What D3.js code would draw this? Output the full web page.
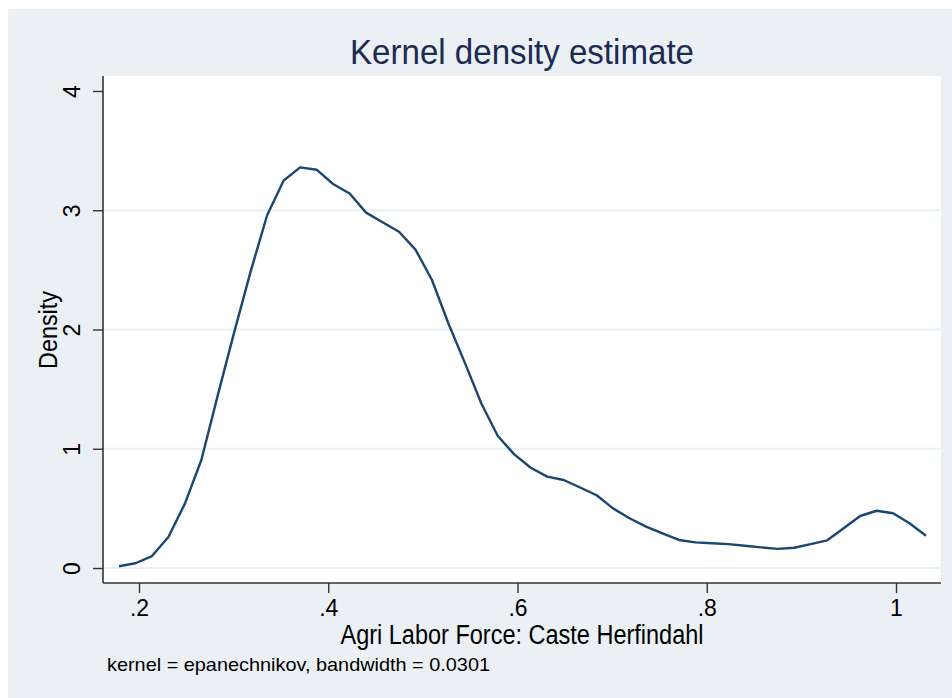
<!DOCTYPE html>
<html>
<head>
<meta charset="utf-8">
<script src="https://cdn.jsdelivr.net/npm/d3@7"></script>
<style>
  html, body { margin: 0; padding: 0; background: #ffffff; }
  svg { display: block; }
  text { font-family: "Liberation Sans", Arial, Helvetica, sans-serif; }
</style>
</head>
<body>
<svg id="chart" width="952" height="698"></svg>
<script>
// ---- data ----
const titleText = "Kernel density estimate";
const xAxisTitle = "Agri Labor Force: Caste Herfindahl";
const yAxisTitle = "Density";
const noteText = "kernel = epanechnikov, bandwidth = 0.0301";

const xTicks = [0.2, 0.4, 0.6, 0.8, 1.0];
const xTickLabels = [".2", ".4", ".6", ".8", "1"];
const yTicks = [0, 1, 2, 3, 4];
const yTickLabels = ["0", "1", "2", "3", "4"];

const gridX = [0.1789, 0.1963, 0.2137, 0.2311, 0.2485, 0.2659, 0.2833, 0.3007, 0.3181, 0.3355,
               0.3529, 0.3703, 0.3877, 0.4051, 0.4226, 0.4400, 0.4574, 0.4748, 0.4922, 0.5096,
               0.5270, 0.5444, 0.5618, 0.5792, 0.5966, 0.6140, 0.6314, 0.6488, 0.6662, 0.6836,
               0.7010, 0.7184, 0.7358, 0.7532, 0.7706, 0.7880, 0.8054, 0.8228, 0.8402, 0.8576,
               0.8750, 0.8924, 0.9098, 0.9273, 0.9447, 0.9621, 0.9795, 0.9969, 1.0143, 1.0317];
const density = [0.015, 0.04, 0.10, 0.26, 0.54, 0.906, 1.45, 1.98, 2.49, 2.96,
                 3.25, 3.36, 3.34, 3.22, 3.14, 2.98, 2.90, 2.82, 2.67, 2.415,
                 2.05, 1.72, 1.38, 1.107, 0.953, 0.841, 0.766, 0.738, 0.675, 0.61,
                 0.50, 0.417, 0.347, 0.29, 0.235, 0.215, 0.207, 0.20, 0.187, 0.173,
                 0.16, 0.17, 0.20, 0.232, 0.333, 0.436, 0.48, 0.459, 0.375, 0.271];

// ---- layout ----
const W = 952, H = 698;
const plot = { left: 103, right: 941, top: 76, bottom: 583 };
const bgColor = "#eaf0f3";
const lineColor = "#1a476f";

const svg = d3.select("#chart");

// outer graph region
svg.append("rect").attr("x", 8).attr("y", 9).attr("width", W - 8).attr("height", H - 9)
   .attr("fill", bgColor);

// plot region
svg.append("rect").attr("x", plot.left).attr("y", plot.top)
   .attr("width", plot.right - plot.left).attr("height", plot.bottom - plot.top)
   .attr("fill", "#ffffff");

const x = d3.scaleLinear().domain([0.2, 1.0]).range([139, 896]);
const y = d3.scaleLinear().domain([0, 4]).range([568, 91]);

// gridlines
svg.append("g").selectAll("line").data(yTicks.filter(d => d < 4)).join("line")
  .attr("x1", plot.left).attr("x2", plot.right)
  .attr("y1", d => y(d)).attr("y2", d => y(d))
  .attr("stroke", "#eaf0f3").attr("stroke-width", 2);

// density curve
const line = d3.line().x((d, i) => x(gridX[i])).y(d => y(d));
svg.append("path").datum(density)
  .attr("d", line)
  .attr("fill", "none").attr("stroke", lineColor).attr("stroke-width", 2.4)
  .attr("stroke-linejoin", "round");

// y axis
const yAxis = d3.axisLeft(y).tickValues(yTicks).tickSize(10).tickFormat((d, i) => yTickLabels[i]);
const gy = svg.append("g").attr("transform", `translate(${plot.left},0)`).call(yAxis);
gy.select(".domain").attr("d", `M0,${plot.top}V${plot.bottom}`).attr("stroke", "#333").attr("stroke-width", 1.6);
gy.selectAll(".tick line").attr("stroke", "#333").attr("stroke-width", 1.4);
gy.selectAll(".tick text")
  .attr("x", 0).attr("y", 0).attr("dy", null)
  .attr("transform", "translate(-23,0) rotate(-90)")
  .attr("text-anchor", "middle")
  .attr("font-size", 23).attr("fill", "#000");

// x axis
const xAxis = d3.axisBottom(x).tickValues(xTicks).tickSize(10).tickFormat((d, i) => xTickLabels[i]);
const gx = svg.append("g").attr("transform", `translate(0,${plot.bottom})`).call(xAxis);
gx.select(".domain").attr("d", `M${plot.left},0H${plot.right}`).attr("stroke", "#333").attr("stroke-width", 1.6);
gx.selectAll(".tick text")
  .attr("y", 33).attr("dy", null)
  .attr("font-size", 23).attr("fill", "#000");
gx.selectAll(".tick line").attr("stroke", "#333").attr("stroke-width", 1.4);

// title
svg.append("text").attr("x", (plot.left + plot.right) / 2).attr("y", 64)
  .attr("text-anchor", "middle").attr("font-size", 35).attr("fill", "#1c2b52")
  .attr("textLength", 344).attr("lengthAdjust", "spacingAndGlyphs")
  .text(titleText);

// axis titles
svg.append("text").attr("x", (plot.left + plot.right) / 2).attr("y", 644)
  .attr("text-anchor", "middle").attr("font-size", 27).attr("fill", "#000")
  .attr("textLength", 363).attr("lengthAdjust", "spacingAndGlyphs")
  .text(xAxisTitle);

svg.append("text").attr("transform", "translate(57,330) rotate(-90)")
  .attr("text-anchor", "middle").attr("font-size", 25).attr("fill", "#000")
  .attr("textLength", 78).attr("lengthAdjust", "spacingAndGlyphs")
  .text(yAxisTitle);

// note
svg.append("text").attr("x", 107).attr("y", 671)
  .attr("font-size", 19).attr("fill", "#000")
  .attr("textLength", 383).attr("lengthAdjust", "spacingAndGlyphs")
  .text(noteText);
</script>
</body>
</html>
